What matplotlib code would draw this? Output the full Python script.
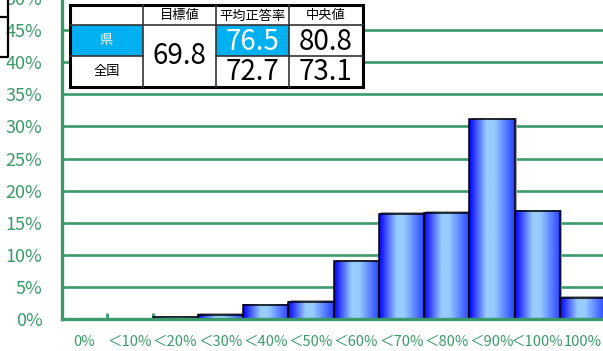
import numpy as np
import matplotlib
matplotlib.use('Agg')
from matplotlib import pyplot as plt
from matplotlib.patches import Rectangle
from matplotlib.colors import LinearSegmentedColormap

plt.rcParams['font.family'] = ['Noto Sans CJK JP', 'DejaVu Sans']

# score bands and share of students (%)
bands = ['0%', '＜10%', '＜20%', '＜30%', '＜40%', '＜50%', '＜60%',
         '＜70%', '＜80%', '＜90%', '＜100%', '100%']
share = [0.0, 0.0, 0.3, 0.7, 2.2, 2.7, 9.0, 16.4, 16.6, 31.1, 16.8, 3.3]
yticks = [0, 5, 10, 15, 20, 25, 30, 35, 40, 45, 50]

# summary table
col_heads = ['目標値', '平均正答率', '中央値']
row_heads = ['県', '全国']
target = 69.8
mean_rate = [76.5, 72.7]
median = [80.8, 73.1]

green = '#3a9a68'
blue_cell = '#00b0f0'

W, H = 603, 351
fig = plt.figure(figsize=(W / 100, H / 100), dpi=100)
ax = fig.add_axes([62 / W, (H - 319.3) / H, (605 - 62) / W, 321.5 / H])

grad = LinearSegmentedColormap.from_list(
    'bar', [(0.0, (0.0, 0.0, 1.0)), (0.38, (0.6, 0.8, 1.0)),
            (0.55, (0.6, 0.8, 1.0)), (1.0, (0.15, 0.25, 1.0))])
g = np.linspace(0, 1, 128).reshape(1, -1)

n = len(bands)
x = np.arange(n)
for xi, h in zip(x, share):
    if h <= 0:
        continue
    # thin grey shadow on the right side
    ax.add_patch(Rectangle((xi - 0.5 + 0.05, 0), 1.0, h + 0.25,
                           facecolor='#a0a0a0', edgecolor='none', zorder=2))
    ax.imshow(g, cmap=grad, extent=[xi - 0.5, xi + 0.5, 0, h],
              aspect='auto', zorder=3, interpolation='bicubic')
    ax.add_patch(Rectangle((xi - 0.5, 0), 1.0, h, facecolor='none',
                           edgecolor='black', lw=1.1, zorder=4))

ax.set_xlim(-0.5, n - 0.5)
ax.set_ylim(0, 50)
ax.set_yticks(yticks)
ax.set_yticklabels([f'{v}%' for v in yticks])
ax.set_xticks(x)
ax.set_xticklabels(bands)
ax.set_xticks(x[:-1] + 0.5, minor=True)
ax.tick_params(axis='x', which='major', length=0, pad=11, labelsize=10.5,
               labelcolor=green)
ax.tick_params(axis='x', which='minor', direction='in', length=4, width=2,
               color=green)
ax.tick_params(axis='y', length=0, pad=14, labelsize=13, labelcolor=green)

ax.set_axisbelow(True)
ax.yaxis.grid(True, color=green, lw=1.9)
for s in ['top', 'right']:
    ax.spines[s].set_visible(False)
for s in ['left', 'bottom']:
    ax.spines[s].set_color(green)
    ax.spines[s].set_linewidth(2.4)
    ax.spines[s].set_zorder(5)

# overlay in pixel coordinates for the table
ov = fig.add_axes([0, 0, 1, 1], zorder=10)
ov.set_xlim(0, W)
ov.set_ylim(H, 0)
ov.axis('off')

# edge of a neighbouring box on the far left
ov.plot([0, 8, 8, 0], [17, 17, 57, 57], color='black', lw=1.6)
ov.plot([8, 8], [0, 17], color='black', lw=1.6)

cx = [70, 143, 216, 289, 363]
ry = [5, 25, 56, 87]
ov.add_patch(Rectangle((cx[0], ry[0]), cx[-1] - cx[0], ry[-1] - ry[0],
                       facecolor='white', edgecolor='none'))
ov.add_patch(Rectangle((cx[0], ry[1]), cx[1] - cx[0], ry[2] - ry[1],
                       facecolor=blue_cell, edgecolor='none'))
ov.add_patch(Rectangle((cx[2], ry[1]), cx[3] - cx[2], ry[2] - ry[1],
                       facecolor=blue_cell, edgecolor='none'))

lc = '#333333'
for xx in cx[1:-1]:
    ov.plot([xx, xx], [ry[0], ry[-1]], color=lc, lw=1.2)
ov.plot([cx[0], cx[-1]], [ry[1], ry[1]], color=lc, lw=1.2)
ov.plot([cx[0], cx[1]], [ry[2], ry[2]], color=lc, lw=1.2)
ov.plot([cx[2], cx[-1]], [ry[2], ry[2]], color=lc, lw=1.2)
ov.add_patch(Rectangle((cx[0], ry[0]), cx[-1] - cx[0], ry[-1] - ry[0],
                       facecolor='none', edgecolor='black', lw=2.2))

for i, t in enumerate(col_heads):
    ov.text((cx[i + 1] + cx[i + 2]) / 2, (ry[0] + ry[1]) / 2 + 1, t,
            ha='center', va='center', fontsize=9.5)
for j, t in enumerate(row_heads):
    ov.text((cx[0] + cx[1]) / 2, (ry[j + 1] + ry[j + 2]) / 2, t,
            ha='center', va='center', fontsize=9.5,
            color='white' if j == 0 else 'black')
ov.text((cx[1] + cx[2]) / 2, ry[2], f'{target:.1f}', ha='center',
        va='center', fontsize=20)
for j in range(2):
    yc = (ry[j + 1] + ry[j + 2]) / 2 + 1
    ov.text((cx[2] + cx[3]) / 2, yc, f'{mean_rate[j]:.1f}', ha='center',
            va='center', fontsize=20, color='white' if j == 0 else 'black')
    ov.text((cx[3] + cx[4]) / 2, yc, f'{median[j]:.1f}', ha='center',
            va='center', fontsize=20)

fig.savefig('out.png', dpi=100)
